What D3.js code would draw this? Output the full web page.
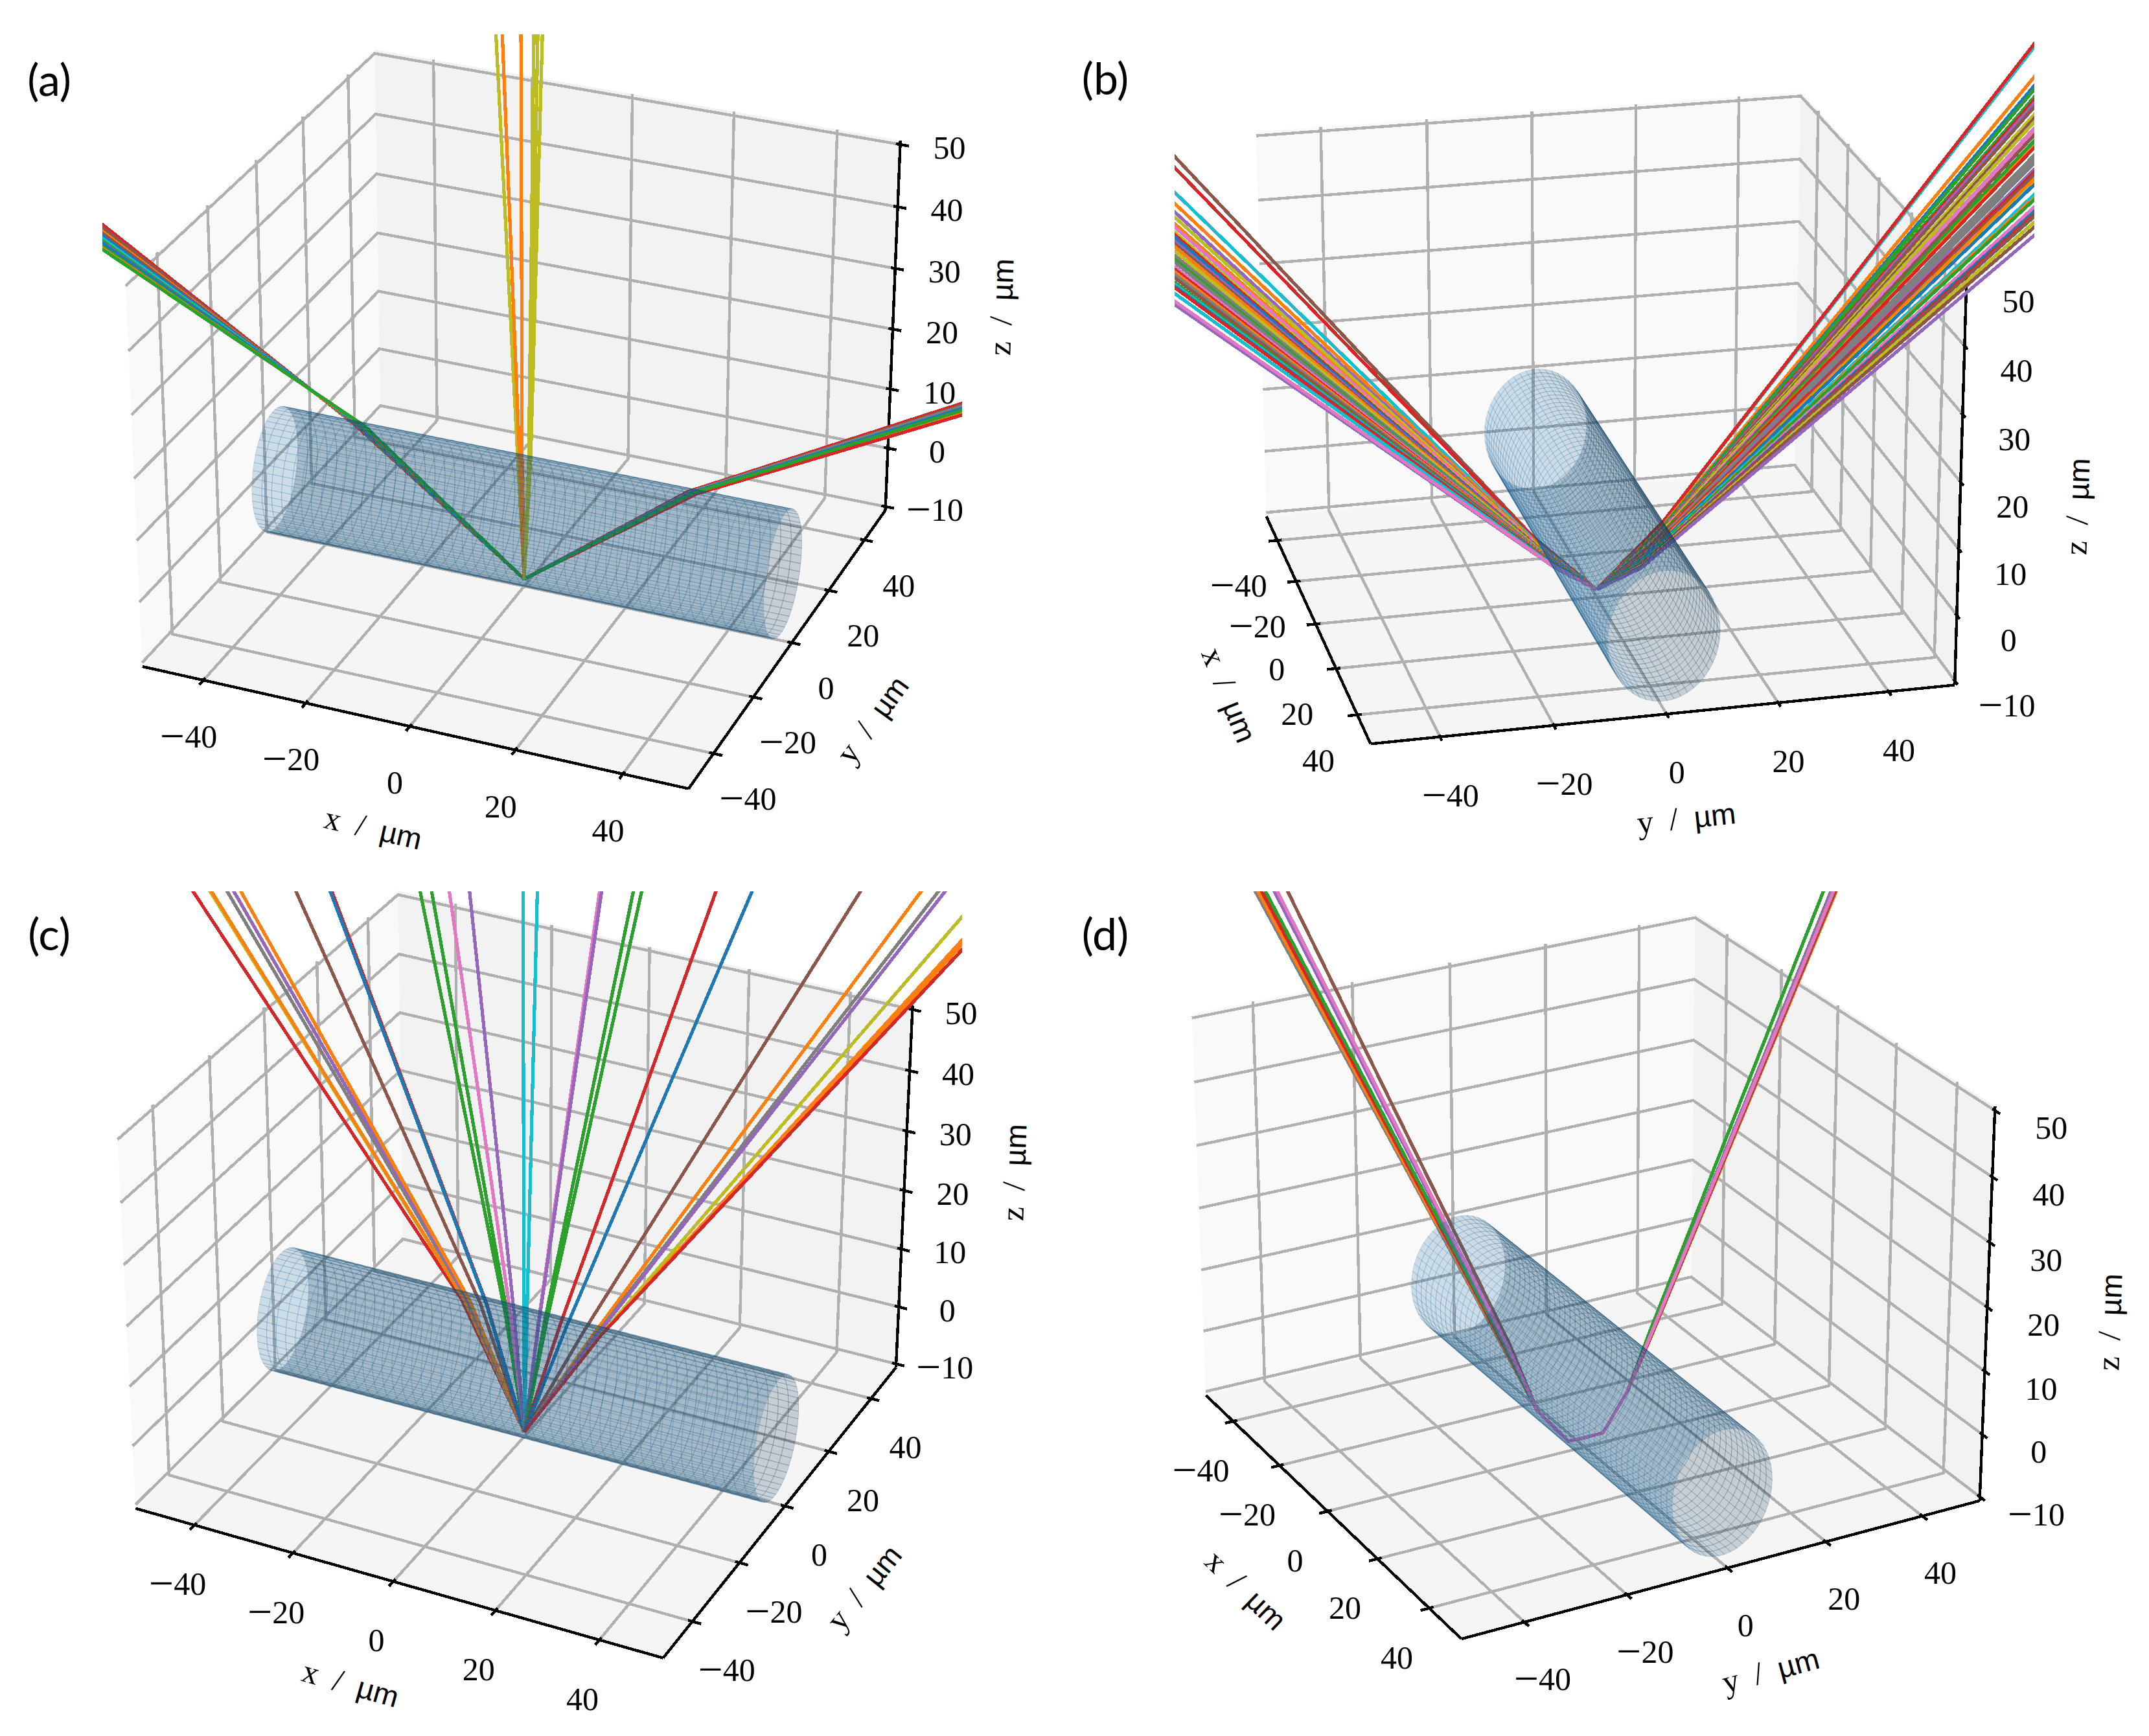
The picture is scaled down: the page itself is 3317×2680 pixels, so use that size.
<!DOCTYPE html>
<html><head><meta charset="utf-8">
<script src="https://cdn.jsdelivr.net/npm/d3@7/dist/d3.min.js"></script>
<style>html,body{margin:0;background:#fff}</style></head><body><div id="chart"></div>
<script>
// ---------- axis values ----------
const xTicks=[-40,-20,0,20,40], yTicks=[-40,-20,0,20,40], zTicks=[-10,0,10,20,30,40,50];
const xLim=[-50,50], yLim=[-50,50], zLim=[-10,50];
const cylRadius=10, cylEnds=[-50,50];

// ---------- panel (a), rays in the y=0 plane ----------
const aLeftColors=[3,5,1,5,0,9,2,4,0,2,1,2];
const aLeftFarX=-84;
const aLeftFarZ=[36.0,35.46,34.8,34.5,34.07,33.6,33.2,32.9,32.8,32.2,31.9,31.7];
const aLeftKinkX=[-33.6,-33.4,-33.2,-33.0,-32.8,-32.6,-32.5,-32.3,-32.1,-31.9,-31.7,-31.5];
const aRightColors=[3,5,7,1,3,0,2];
const aRightFarX=82;
const aRightFarZ=[33.6,33.3,33.1,32.1,31.7,32.76,32.45];
const aRightKinkX=[31.7,32.0,32.1,33.2,33.5,32.5,32.8];
const aCenterColors=[8,1,1,8,8,8];
const aCenterFarX=[-5.33,-4.12,-0.6,1.82,2.54,3.39];
const aCenterFarZ=[78.5,78.5,78.5,78.5,78.5,78.5];
const aCenterKinkX=[-1.27,-0.9,-0.4,0.9,1.14,1.27];
const aKinkZ=10.5, aSourceZ=-10;

// ---------- panel (b), rays in the x=0 plane ----------
const bLeftColors=[5,3,9,1,4,8,1,6,8,3,0,4,5,1,8,7,2,7,6,3,1,7,5,2,9,0,3,9,4,6];
const bLeftFarY=-75;
const bLeftFarZ=[62.5,60.8,57.0,55.3,54.0,53.2,52.2,51.7,50.9,50.5,50.1,49.5,49.1,48.7,48.0,47.3,46.7,46.3,45.6,45.2,44.8,44.4,43.9,43.2,42.9,42.6,42.4,41.5,39.8,40.3];
const bLeftKinkY=[-11.85,-11.55,-10.88,-10.58,-10.35,-10.2,-10.03,-9.94,-9.8,-9.73,-9.66,-9.55,-9.48,-9.41,-9.29,-9.16,-9.06,-8.99,-8.87,-8.8,-8.72,-8.65,-8.57,-8.44,-8.39,-8.33,-8.3,-8.14,-7.84,-7.95];
const bLeftKinkZ=[-0.55,-0.95,-1.82,-2.2,-2.5,-2.7,-2.93,-3.05,-3.23,-3.33,-3.42,-3.56,-3.65,-3.74,-3.9,-4.07,-4.2,-4.3,-4.46,-4.55,-4.65,-4.73,-4.85,-5.01,-5.08,-5.15,-5.2,-5.41,-5.8,-5.66];
const bRightColors=[9,3,1,0,2,2,3,4,5,8,5,8,6,6,5,2,1,3,7,8,7,7,4,3,5,1,8,0,9,1,2,6,0,3,5,8,5,4];
const bRightFarY=81;
const bRightFarZ=[70.0,70.5,65.2,63.8,63.2,62.0,61.5,61.0,60.4,59.2,58.6,58.0,57.0,56.4,55.9,55.0,54.2,53.9,52.7,51.9,52.1,51.4,50.4,50.0,49.5,48.9,48.2,48.0,46.4,45.9,45.6,44.4,43.7,43.2,42.9,42.0,41.2,39.9];
const bRightKinkY=[12.43,12.5,11.78,11.6,11.5,11.35,11.3,11.2,11.13,11.0,10.9,10.8,10.7,10.6,10.5,10.4,10.3,10.25,10.1,10.0,10.0,9.9,9.8,9.7,9.65,9.57,9.5,9.45,9.2,9.16,9.1,8.96,8.87,8.8,8.76,8.64,8.53,8.35];
const bRightKinkZ=[-0.1,0,-1.25,-1.6,-1.7,-2,-2.1,-2.2,-2.4,-2.65,-2.8,-2.95,-3.2,-3.3,-3.4,-3.65,-3.85,-3.9,-4.2,-4.4,-4.3,-4.5,-4.7,-4.8,-4.95,-5.1,-5.25,-5.3,-5.7,-5.8,-5.85,-6.15,-6.3,-6.4,-6.5,-6.7,-6.9,-7.2];
const bSourceZ=-10;

// ---------- panel (c), rays in the y=0 plane ----------
const cColors=[3,8,1,7,4,1,5,3,0,2,2,6,4,9,9,6,4,2,2,3,0,5,1,7,4,8,1,1,3];
const cFarX=[-65.9,-62.4,-62.1,-58.9,-57.5,-56.1,-44.9,-37.7,-38,-20.2,-17.95,-14.5,-10.57,-0.26,2.47,14.27,14.66,20.6,22.15,35.9,42.5,62,72.7,75.7,76.9,80.05,80.3,80.3,80.35];
const cFarZ=[67.7,68.35,68.4,69,69.2,69.5,71.5,72.8,72.7,75.9,76.3,76.9,77.65,79.5,80,82.1,82.2,83.25,83.5,86,87.2,90.7,92.6,93.1,93.35,90.1,86.7,86,85.2];
const cKinkX=[-12.8,-12.2,-12.1,-11.5,-11.2,-11,-8.9,-7.5,-7.6,-4,-3.6,-2.9,-2.1,-0.1,0.5,2.9,3,4.1,4.5,7.2,8.5,12,14,14.5,14.7,15.3,15.4,15.4,15.4];
const cKinkZ=10, cSourceZ=-10.5;

// ---------- panel (d), rays in the x=0 plane ----------
const dColors=[7,1,3,2,5,4,6];
const dLeftFarY=[-62.5,-62.04,-61.45,-60.8,-57.04,-59.3,-58.8];
const dLeftFarZ=86.2;
const dRightFarY=[50.0,51.2,51.0,48.3,50.8,50.3,50.56];
const dRightFarZ=69.4;
const dLeftBendY=[-16.8,-16.7,-16.5,-16.3,-15.3,-16.0,-15.8];
const dLeftBendZ=8.7;
const dRightBendY=[13.87,14.17,14.12,13.37,14.02,13.87,13.92];
const dRightBendZ=5.0;
const dInnerY=[-9.72,-3.34,3.8,8.9];
const dInnerZ=[-3.3,-9.64,-9.68,-3.74];

// ---------- assembling rays as polylines in data space ----------
const aRays=[
 ...aLeftFarZ.map((z,i)=>({c:aLeftColors[i],p:[[aLeftFarX,0,z],[aLeftKinkX[i],0,aKinkZ],[0,0,aSourceZ]],far:0})),
 ...aRightFarZ.map((z,i)=>({c:aRightColors[i],p:[[0,0,aSourceZ],[aRightKinkX[i],0,aKinkZ],[aRightFarX,0,z]],far:1})),
 ...aCenterFarZ.map((z,i)=>({c:aCenterColors[i],p:[[0,0,aSourceZ],[aCenterKinkX[i],0,aKinkZ],[aCenterFarX[i],0,z]],far:1}))];
const bRays=[
 ...bLeftFarZ.map((z,i)=>({c:bLeftColors[i],p:[[0,bLeftFarY,z],[0,bLeftKinkY[i],bLeftKinkZ[i]],[0,0,bSourceZ]],far:0})),
 ...bRightFarZ.map((z,i)=>({c:bRightColors[i],p:[[0,0,bSourceZ],[0,bRightKinkY[i],bRightKinkZ[i]],[0,bRightFarY,z]],far:1}))];
const cRays=cFarX.map((x,i)=>({c:cColors[i],p:[[0,0,cSourceZ],[cKinkX[i],0,cKinkZ],[x,0,cFarZ[i]]],far:1}));
const dRays=dColors.map((c,i)=>({c,p:[[0,dLeftFarY[i],dLeftFarZ],[0,dLeftBendY[i],dLeftBendZ],...dInnerY.map((y,k)=>[0,y,dInnerZ[k]]),[0,dRightBendY[i],dRightBendZ],[0,dRightFarY[i],dRightFarZ]],far:2}));

// ---------- layout of the four panels ----------
const panels=[
 {tag:"(a)",tagXY:[76,124],el:28.39,az:-67.456,cx:809.03,cy:619.94,S:7522.7,k:.985,clip:[158,53,1327,1330],rays:aRays,
  off:{x:[-23,87],y:[53,70],z:[76,5]},lab:{x:[576,1279,13],y:[1347,1111,-54],z:[1546,474,-88]}},
 {tag:"(b)",tagXY:[1706,122],el:21.162,az:-13.428,cx:2464.4,cy:619.57,S:7515.3,k:.982,clip:[1813,53,1327,1330],rays:bRays,
  off:{x:[-60,70],y:[16,90],z:[80,38]},lab:{x:[1897,1073,68],y:[2603,1263,-6],z:[3207,782,-88]}},
 {tag:"(c)",tagXY:[76,1443],el:30.847,az:-63.804,cx:809.47,cy:1940.24,S:7528.5,k:.982,clip:[158,1376,1327,1304],rays:cRays,
  off:{x:[-26,91],y:[53,75],z:[75,5]},lab:{x:[541,2600,16],y:[1334,2451,-51],z:[1566,1810,-88]}},
 {tag:"(d)",tagXY:[1706,1443],el:25.192,az:-28.527,cx:2445.83,cy:1939.92,S:7535.3,k:.983,clip:[1813,1376,1327,1304],rays:dRays,
  off:{x:[-50,76],y:[28,88],z:[87,27]},lab:{x:[1923,2455,44],y:[2733,2579,-15],z:[3257,2041,-88]}}
];

const W=3317,H=2680;
const svg=d3.select("#chart").append("svg").attr("width",W).attr("height",H).attr("viewBox",[0,0,W,H]).style("display","block").style("background","#fff");
const tab=d3.schemeCategory10;
const serif="'Liberation Serif',serif", tagFont="Lato,'Noto Sans',sans-serif";
const tickFont=50;
// z ticks sit a little wider than the nominal limits on the drawn box
const zTickPos=d3.scaleLinear().domain([-10,50]).range([-10.6,50.6]);

function makeProjector(v){
 const pad=d=>(d[1]-d[0])/48;
 const xl=[xLim[0]-pad(xLim),xLim[1]+pad(xLim)], yl=[yLim[0]-pad(yLim),yLim[1]+pad(yLim)], zl=[zLim[0]-pad(zLim),zLim[1]+pad(zLim)];
 const bx=d3.scaleLinear().domain(xl).range([-.595,.595]);
 const by=d3.scaleLinear().domain(yl).range([-.595,.595]);
 const hz=.893*v.k/2;
 const bz=d3.scaleLinear().domain(zl).range([-hz,hz]);
 const e=v.el*Math.PI/180,a=v.az*Math.PI/180;
 const w=[Math.cos(e)*Math.cos(a),Math.cos(e)*Math.sin(a),Math.sin(e)];
 const n=Math.hypot(w[0],w[1]); const u=[-w[1]/n,w[0]/n,0];
 const t=[w[1]*u[2]-w[2]*u[1],w[2]*u[0]-w[0]*u[2],w[0]*u[1]-w[1]*u[0]];
 const dist=10;
 const dot=(A,B)=>A[0]*B[0]+A[1]*B[1]+A[2]*B[2];
 const f=(p)=>{const X=[bx(p[0])-dist*w[0],by(p[1])-dist*w[1],bz(p[2])-dist*w[2]];
   const D=-dot(w,X); return [v.cx+v.S*dot(u,X)/D, v.cy-v.S*dot(t,X)/D, D];};
 f.xl=xl;f.yl=yl;f.zl=zl;f.pad=[(xLim[1]-xLim[0])/12,(yLim[1]-yLim[0])/12];
 return f;
}

// light as in the surface shading: from lower x, lower y, above
const light=[-.667,-.667,.333];
function cylinderQuads(P){
 const nA=50,nT=50,q=[];
 const xs=d3.scaleLinear().domain([0,nA]).range(cylEnds);
 const th=d3.scaleLinear().domain([0,nT]).range([0,2*Math.PI]);
 const pt=(i,j)=>[xs(i),cylRadius*Math.cos(th(j)),cylRadius*Math.sin(th(j))];
 for(let i=0;i<nA;i++)for(let j=0;j<nT;j++){
  const c=[pt(i,j),pt(i+1,j),pt(i+1,j+1),pt(i,j+1)].map(P);
  const m=(th(j)+th(j+1))/2;
  const s=.3+.7*((light[1]*Math.cos(m)+light[2]*Math.sin(m))+1)/2;
  q.push({c,s,d:d3.mean(c,p=>p[2])});
 }
 return q.sort((a,b)=>b.d-a.d);
}

const line=d3.line();
panels.forEach((v,idx)=>{
 const P=makeProjector(v), g=svg.append("g").attr("class","panel");
 const [x0,x1]=P.xl,[y0,y1]=P.yl,[z0,z1]=P.zl;
 const p2=p=>P(p).slice(0,2);
 const poly=a=>line(a.map(p2));
 // panes
 g.append("g").selectAll("path").data([
   {c:"#f9f9f9",p:[[x0,y0,z0],[x0,y1,z0],[x0,y1,z1],[x0,y0,z1]]},
   {c:"#f2f2f2",p:[[x0,y1,z0],[x1,y1,z0],[x1,y1,z1],[x0,y1,z1]]},
   {c:"#f5f5f5",p:[[x0,y0,z0],[x1,y0,z0],[x1,y1,z0],[x0,y1,z0]]}])
  .join("path").attr("d",d=>poly(d.p)+"Z").attr("fill",d=>d.c);
 // grid
 const gl=[...xTicks.map(t=>[[t,y0,z0],[t,y1,z0],[t,y1,z1]]),
           ...yTicks.map(t=>[[x1,t,z0],[x0,t,z0],[x0,t,z1]]),
           ...zTicks.map(t=>[[x0,y0,zTickPos(t)],[x0,y1,zTickPos(t)],[x1,y1,zTickPos(t)]])];
 g.append("g").attr("fill","none").attr("stroke","#b0b0b0").attr("stroke-width",4.4).attr("shape-rendering","crispEdges")
  .selectAll("path").data(gl).join("path").attr("d",poly);
 // axis lines & ticks
 const ax=g.append("g").attr("fill","none").attr("stroke","#000").attr("stroke-width",4.4).attr("shape-rendering","crispEdges");
 ax.selectAll("path.l").data([[[x0,y0,z0],[x1,y0,z0]],[[x1,y0,z0],[x1,y1,z0]],[[x1,y1,z0],[x1,y1,z1]]]).join("path").attr("class","l").attr("d",poly);
 const od=P.pad[0]*.2,id=P.pad[0]*.1;
 const tk=[...xTicks.map(t=>[[t,y0-od,z0],[t,y0+id,z0]]),...yTicks.map(t=>[[x1+od,t,z0],[x1-id,t,z0]]),...zTicks.map(t=>[[x1+od,y1,zTickPos(t)],[x1-id,y1,zTickPos(t)]])];
 ax.selectAll("path.t").data(tk).join("path").attr("class","t").attr("d",poly);
 // tick labels (the minus is set larger, as in the reference's math font)
 const lbl=[...xTicks.map(t=>({t,a:[t,y0,z0],o:v.off.x})),...yTicks.map(t=>({t,a:[x1,t,z0],o:v.off.y})),...zTicks.map(t=>({t,a:[x1,y1,zTickPos(t)],o:v.off.z}))];
 const tl=g.append("g").attr("font-family",serif).attr("font-size",tickFont).attr("text-anchor","middle").attr("fill","#000")
  .selectAll("text").data(lbl).join("text")
  .attr("x",d=>p2(d.a)[0]+d.o[0]).attr("y",d=>p2(d.a)[1]+d.o[1]+17);
 tl.filter(d=>d.t<0).append("tspan").attr("font-size",68).attr("dy",5).text("\u2212");
 tl.append("tspan").attr("dy",d=>d.t<0?-5:0).text(d=>Math.abs(d.t));
 // axis titles
 ["x","y","z"].forEach(n=>{const L=v.lab[n];
  const t=g.append("text").attr("transform",`translate(${L[0]},${L[1]}) rotate(${L[2]})`).attr("text-anchor","middle").attr("dy",".32em")
   .attr("font-family",serif).attr("font-size",tickFont).attr("xml:space","preserve").attr("word-spacing",12);
  t.append("tspan").text(n+" / "); t.append("tspan").attr("font-family","'Liberation Sans',sans-serif").attr("font-size",46).text("\u00b5m");
 });
 // rays, clipped to the axes box
 const cid="clip"+idx;
 svg.append("clipPath").attr("id",cid).append("rect").attr("x",v.clip[0]).attr("y",v.clip[1]).attr("width",v.clip[2]).attr("height",v.clip[3]);
 const ext=r=>{const a=r.p.slice();
   const extend=(far,near)=>far.map((c,i)=>near[i]+(c-near[i])*1.6);
   if(r.far===0||r.far===2)a[0]=extend(a[0],a[1]);
   if(r.far===1||r.far===2)a[a.length-1]=extend(a[a.length-1],a[a.length-2]);
   return a;};
 g.append("g").attr("clip-path",`url(#${cid})`).attr("fill","none").attr("stroke-width",5.2).attr("stroke-linejoin","round").attr("shape-rendering","crispEdges")
  .selectAll("path").data(v.rays).join("path").attr("stroke",d=>tab[d.c]).attr("d",d=>poly(ext(d)));
 // cylinder
 g.append("g").attr("stroke-width",1).selectAll("path").data(cylinderQuads(P)).join("path")
  .attr("d",d=>line(d.c.map(p=>p.slice(0,2)))+"Z")
  .attr("fill",d=>d3.rgb(31*d.s,119*d.s,180*d.s)).attr("fill-opacity",.2)
  .attr("stroke",d=>d3.rgb(31*d.s,119*d.s,180*d.s)).attr("stroke-opacity",.2);
 // panel tag
 g.append("text").attr("x",v.tagXY[0]).attr("y",v.tagXY[1]).attr("dy",".35em").attr("text-anchor","middle").attr("font-family",tagFont).attr("font-size",68).text(v.tag);
});
</script></body></html>
